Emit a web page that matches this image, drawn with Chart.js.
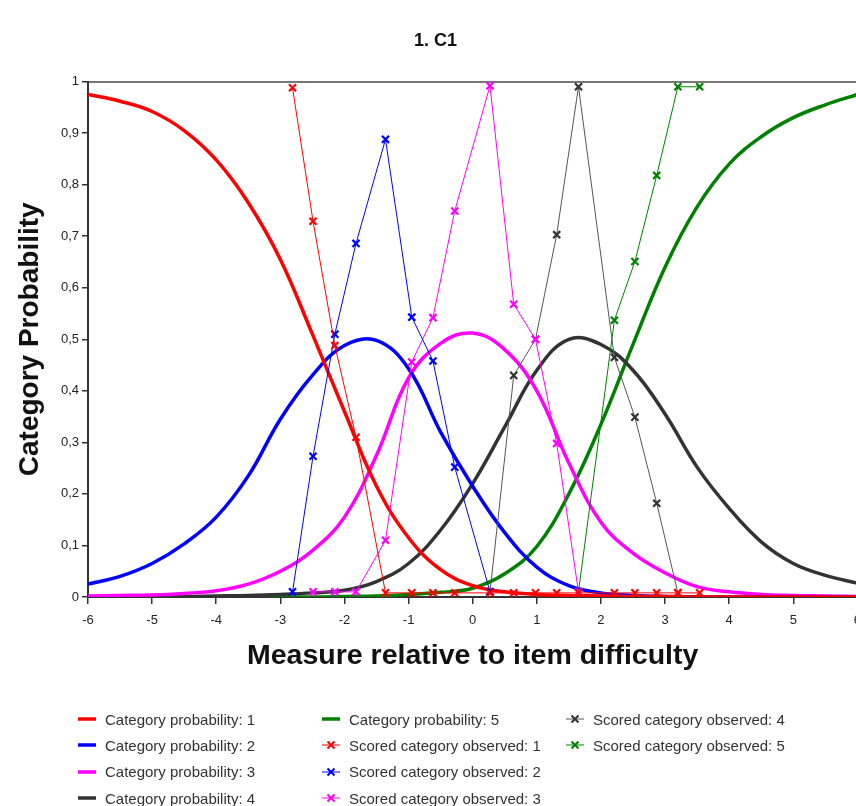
<!DOCTYPE html>
<html>
<head>
<meta charset="utf-8">
<script src="https://cdn.jsdelivr.net/npm/chart.js@4.4.1/dist/chart.umd.min.js"></script>
<style>
    body { margin: 0; background: #fff; }
    #wrap { position: relative; width: 856px; height: 806px; overflow: hidden; }
    #grafico { position: absolute; left: 0; top: 0; }
    #legenda {
        position: absolute; left: 78px; top: 706px;
        display: grid; grid-auto-flow: column;
        grid-template-rows: repeat(4, 26.3px);
        grid-template-columns: 244px 244px 270px;
        font: 15px "Liberation Sans", Arial, sans-serif; color: #333;
    }
    #legenda div { display: flex; align-items: center; white-space: nowrap; }
    #legenda svg { margin-right: 7px; }
</style>
</head>
<body>
<div id="wrap">
    <canvas id="grafico" width="870" height="806"></canvas>
    <div id="legenda"></div>
</div>
<script>
// curvas de probabilidade
const medidas = [-6, -5.5, -5, -4.5, -4, -3.5, -3, -2.5, -2, -1.5, -1, -0.5, 0, 0.5, 1, 1.5, 2, 2.5, 3, 3.5, 4, 4.5, 5, 5.5, 6];
const prob1 = [0.975, 0.962, 0.942, 0.905, 0.848, 0.765, 0.655, 0.51, 0.36, 0.215, 0.115, 0.053, 0.022, 0.01, 0.005, 0.003, 0.002, 0.001, 0.001, 0, 0, 0, 0, 0, 0];
const prob2 = [0.025, 0.04, 0.065, 0.103, 0.155, 0.235, 0.345, 0.43, 0.488, 0.498, 0.443, 0.32, 0.215, 0.125, 0.058, 0.022, 0.008, 0.003, 0.001, 0, 0, 0, 0, 0, 0];
const prob3 = [0.002, 0.003, 0.004, 0.007, 0.012, 0.025, 0.05, 0.09, 0.155, 0.275, 0.425, 0.492, 0.512, 0.48, 0.4, 0.26, 0.145, 0.085, 0.047, 0.02, 0.01, 0.005, 0.003, 0.002, 0.001];
const prob4 = [0, 0, 0.001, 0.001, 0.002, 0.003, 0.005, 0.008, 0.013, 0.03, 0.065, 0.13, 0.22, 0.33, 0.44, 0.5, 0.49, 0.44, 0.355, 0.252, 0.172, 0.107, 0.065, 0.042, 0.027];
const prob5 = [0, 0, 0, 0, 0, 0, 0, 0, 0.001, 0.002, 0.005, 0.009, 0.017, 0.045, 0.098, 0.2, 0.335, 0.49, 0.64, 0.757, 0.84, 0.893, 0.93, 0.955, 0.975];

// categorias observadas
const obsX = [-2.81, -2.49, -2.15, -1.82, -1.36, -0.95, -0.62, -0.28, 0.27, 0.64, 0.98, 1.31, 1.65, 2.21, 2.53, 2.87, 3.2, 3.54];
const obs1 = [0.988, 0.729, 0.488, 0.31, 0.008, 0.008, 0.008, 0.008, 0.008, 0.008, 0.008, 0.008, 0.008, 0.008, 0.008, 0.008, 0.008, 0.008];
const obs2 = [0.01, 0.273, 0.51, 0.686, 0.888, 0.543, 0.458, 0.252, 0.01, null, null, null, null, null, null, null, null, null];
const obs3 = [null, 0.01, 0.01, 0.01, 0.11, 0.456, 0.542, 0.749, 0.992, 0.568, 0.5, 0.298, 0.01, null, null, null, null, null];
const obs4 = [null, null, null, null, null, null, null, null, 0.01, 0.43, 0.5, 0.703, 0.99, 0.465, 0.349, 0.182, 0.008, null];
const obs5 = [null, null, null, null, null, null, null, null, null, null, null, null, 0.01, 0.537, 0.651, 0.818, 0.99, 0.99];

const ticksY = [0, 0.1, 0.2, 0.3, 0.4, 0.5, 0.6, 0.7, 0.8, 0.9, 1];

const fonte = '"Liberation Sans", Arial, sans-serif';

function pontos(xs, ys) {
    return xs.map((x, i) => ({ x: x, y: ys[i] })).filter(p => p.y !== null);
}

function curva(nome, valores, cor) {
    return {
        label: nome, data: pontos(medidas, valores), borderColor: cor, backgroundColor: cor,
        borderWidth: 3.5, pointRadius: 0, tension: 0.4, order: 1, tipo: 'curva'
    };
}

function observado(nome, valores, cor, corLinha) {
    return {
        label: nome, data: pontos(obsX, valores), borderColor: corLinha || cor, backgroundColor: cor,
        borderWidth: 1, pointStyle: 'crossRot', pointRadius: 5, pointBorderWidth: 2.2,
        pointBorderColor: cor, tension: 0, order: 0, clip: false, tipo: 'obs'
    };
}

const datasets = [
    curva('Category probability: 1', prob1, '#ff0000'),
    curva('Category probability: 2', prob2, '#0000ff'),
    curva('Category probability: 3', prob3, '#ff00ff'),
    curva('Category probability: 4', prob4, '#333333'),
    curva('Category probability: 5', prob5, '#008000'),
    observado('Scored category observed: 1', obs1, '#ff0000'),
    observado('Scored category observed: 2', obs2, '#0000ff'),
    observado('Scored category observed: 3', obs3, '#ff00ff'),
    observado('Scored category observed: 4', obs4, '#333333', '#555555'),
    observado('Scored category observed: 5', obs5, '#008000')
];

new Chart(document.getElementById('grafico'), {
    type: 'line',
    data: { datasets: datasets },
    options: {
        responsive: false,
        animation: false,
        layout: { padding: { left: 13, right: 12, top: 0, bottom: 119 } },
        plugins: {
            legend: { display: false },
            tooltip: { enabled: false },
            title: {
                display: true, text: '1. C1', color: '#111',
                font: { family: fonte, size: 18, weight: 'bold' },
                padding: { top: 30, bottom: 19 }
            }
        },
        scales: {
            x: {
                type: 'linear', position: 'bottom', min: -6, max: 6,
                ticks: { stepSize: 1, color: '#222', padding: 9, font: { family: fonte, size: 13 } },
                grid: { drawOnChartArea: false, tickLength: 7, color: '#333', lineWidth: 1.5 },
                border: { color: '#333', width: 2 },
                title: {
                    display: true, text: 'Measure relative to item difficulty', color: '#111',
                    font: { family: fonte, size: 28.5, weight: 'bold' }, padding: { top: 0, bottom: 14 }
                },
                afterFit: s => { s.height = 90; }
            },
            topo: {
                type: 'linear', position: 'top', min: -6, max: 6,
                ticks: { display: false },
                grid: { display: false },
                border: { color: '#777', width: 2 },
                afterFit: s => { s.height = 11; }
            },
            y: {
                min: 0, max: 1,
                afterBuildTicks: s => { s.ticks = ticksY.map(v => ({ value: v })); },
                ticks: {
                    color: '#222', padding: 3, font: { family: fonte, size: 13 },
                    callback: v => (v === 0 || v === 1) ? String(v) : v.toFixed(1).replace('.', ',')
                },
                grid: { drawOnChartArea: false, tickLength: 6, color: '#333', lineWidth: 1.5 },
                border: { color: '#333', width: 2 },
                title: {
                    display: true, text: 'Category Probability', color: '#111',
                    font: { family: fonte, size: 28, weight: 'bold' }, padding: { top: 0, bottom: 0 }
                },
                afterFit: s => { s.width = 75; }
            }
        }
    }
});

// legenda em colunas, como no original
const legenda = document.getElementById('legenda');
datasets.forEach(ds => {
    const item = document.createElement('div');
    const cor = ds.pointBorderColor || ds.borderColor;
    let amostra;
    if (ds.tipo === 'curva') {
        amostra = `<svg width="20" height="12"><line x1="0" y1="6" x2="18" y2="6" stroke="${cor}" stroke-width="3.5"/></svg>`;
    } else {
        amostra = `<svg width="20" height="12"><line x1="0" y1="6" x2="18" y2="6" stroke="${ds.borderColor}" stroke-width="1"/>` +
            `<path d="M5.5 2.5 L12.5 9.5 M12.5 2.5 L5.5 9.5" stroke="${cor}" stroke-width="2"/></svg>`;
    }
    item.innerHTML = amostra + `<span>${ds.label}</span>`;
    legenda.appendChild(item);
});
</script>
</body>
</html>
